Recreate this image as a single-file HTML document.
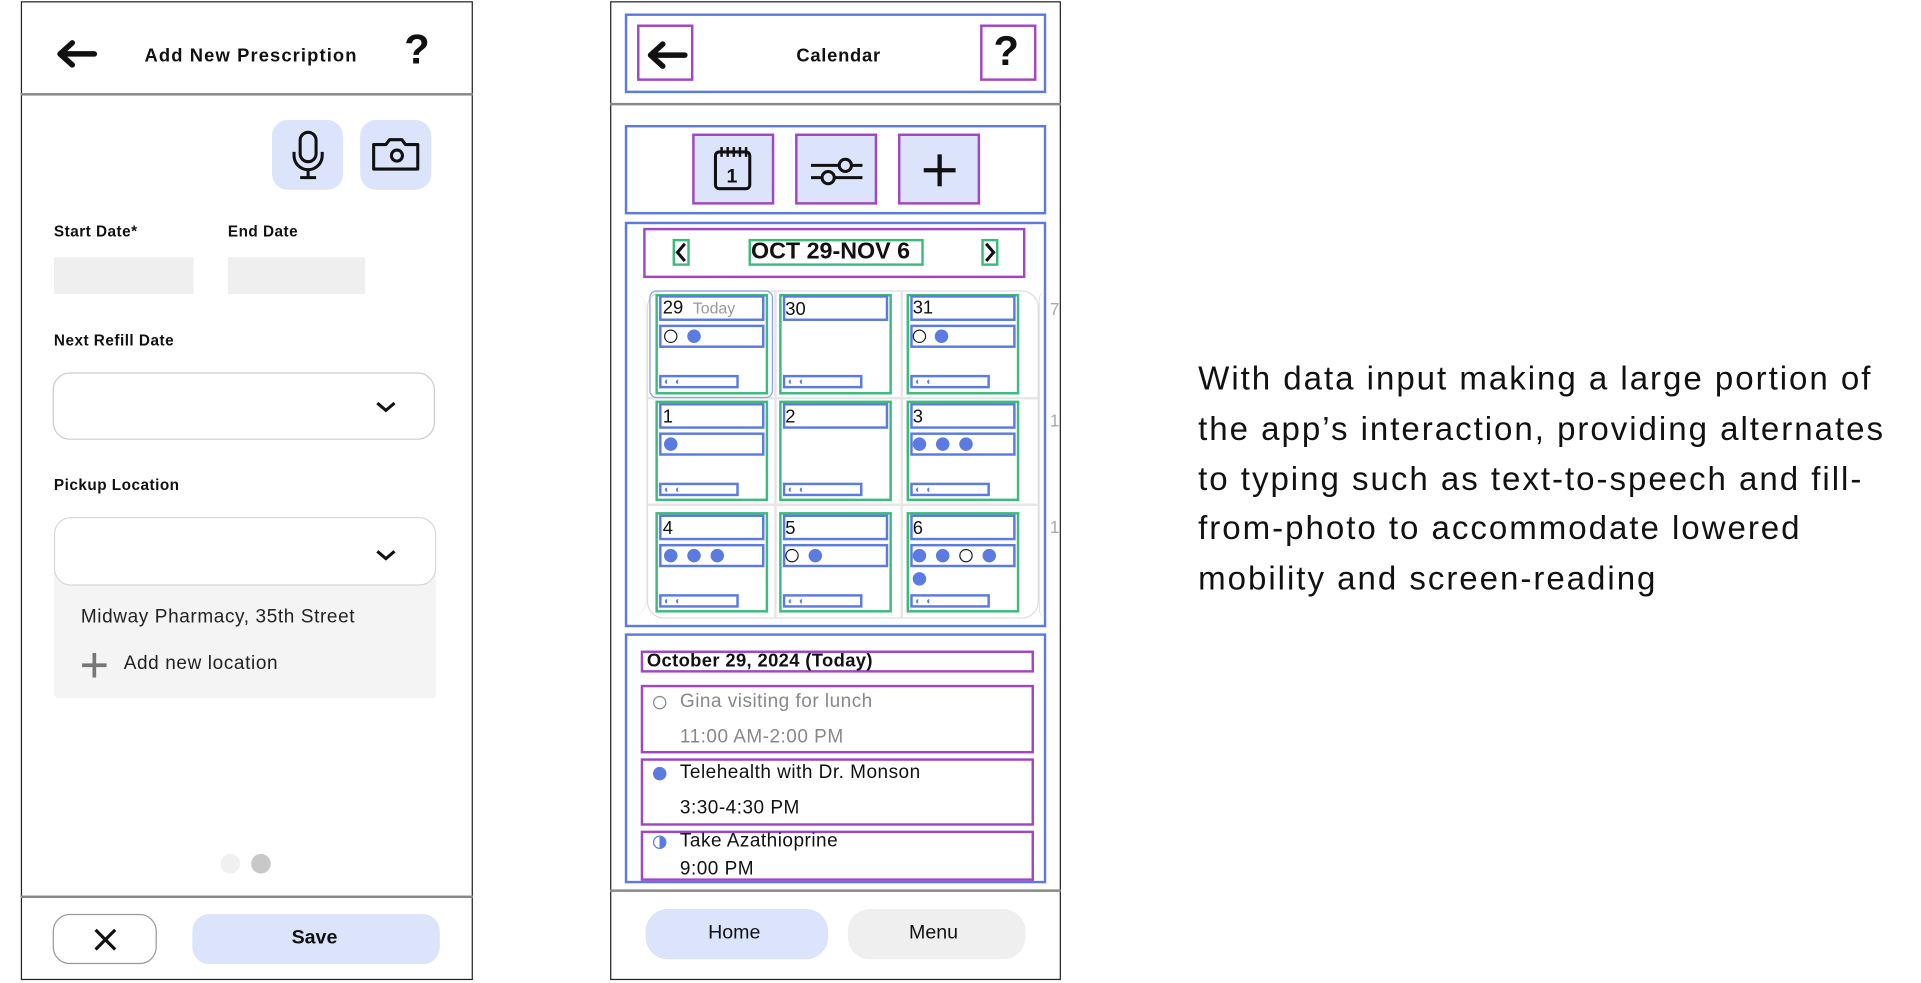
<!DOCTYPE html>
<html><head><meta charset="utf-8"><style>
html,body{margin:0;padding:0;background:#fff;overflow:hidden}
body{width:1921px;height:982px}
#c{position:absolute;left:0;top:0;width:1568px;height:802px;transform:scale(1.2251);transform-origin:0 0;font-family:"Liberation Sans",sans-serif;color:#111}
#c div{position:absolute;box-sizing:border-box}
.b{border:2px solid #5b7be0}
.p{border:2px solid #a146c4}
.g{border:2px solid #3dba7e}
.t{white-space:nowrap}
.dot{width:11px;height:11px;border-radius:50%;background:#5b7be0}
.ho{width:11px;height:11px;border-radius:50%;border:1.5px solid #222;background:#fff}
.lb{background:#dbe4fb}
.sm{font-size:8px;color:#5b7be0;line-height:7px;padding-left:2px;letter-spacing:1px}
</style></head><body><div id="c">

<!-- LEFT PHONE -->
<div style="left:17px;top:1px;width:369px;height:799px;border:1.5px solid #222"></div>
<div style="left:17px;top:76px;width:369px;height:1.5px;background:#888"></div>
<svg style="position:absolute;left:44px;top:32px" width="36" height="24"><path d="M33 12H6M15 3L5 12L15 21" stroke="#111" stroke-width="4.5" fill="none" stroke-linecap="round" stroke-linejoin="round"/></svg>
<div class="t" style="left:118px;top:37px;font-size:15px;font-weight:bold;letter-spacing:0.9px">Add New Prescription</div>
<div class="t" style="left:330px;top:22px;font-size:34px;font-weight:bold">?</div>
<div class="lb" style="left:222px;top:98px;width:58px;height:57px;border-radius:13px"></div>
<div class="lb" style="left:294px;top:98px;width:58px;height:57px;border-radius:13px"></div>
<svg style="position:absolute;left:236px;top:106px" width="32" height="42"><rect x="9" y="2" width="13" height="24" rx="6.5" fill="none" stroke="#111" stroke-width="2.5"/><path d="M4 18v3a11.5 11.5 0 0 0 23 0v-3M15.5 32v6M9 39h13" stroke="#111" stroke-width="2.5" fill="none"/></svg>
<svg style="position:absolute;left:303px;top:110px" width="42" height="34"><path d="M2 8h10l3-4h10l3 4h10v20H2z" fill="none" stroke="#111" stroke-width="2.5" stroke-linejoin="round"/><circle cx="21" cy="17" r="4.5" fill="none" stroke="#111" stroke-width="2.5"/></svg>
<div class="t" style="left:44px;top:182px;font-size:12.5px;font-weight:bold;letter-spacing:0.4px">Start Date*</div>
<div class="t" style="left:186px;top:182px;font-size:12.5px;font-weight:bold;letter-spacing:0.4px">End Date</div>
<div style="left:44px;top:210px;width:114px;height:30px;background:#efefef"></div>
<div style="left:186px;top:210px;width:112px;height:30px;background:#efefef"></div>
<div class="t" style="left:44px;top:271px;font-size:12.5px;font-weight:bold;letter-spacing:0.4px">Next Refill Date</div>
<div style="left:43px;top:304px;width:312px;height:55px;border:1.5px solid #ccc;border-radius:14px"></div>
<svg style="position:absolute;left:305px;top:326px" width="20" height="12"><path d="M3 3l7 6l7-6" stroke="#111" stroke-width="2.5" fill="none"/></svg>
<div class="t" style="left:44px;top:389px;font-size:12.5px;font-weight:bold;letter-spacing:0.4px">Pickup Location</div>
<div style="left:44px;top:455px;width:312px;height:115px;background:#f4f4f4;border-radius:4px"></div>
<div style="left:44px;top:422px;width:312px;height:56px;border:1.5px solid #d8d8d8;border-radius:14px;background:#fff"></div>
<svg style="position:absolute;left:305px;top:447px" width="20" height="12"><path d="M3 3l7 6l7-6" stroke="#111" stroke-width="2.5" fill="none"/></svg>
<div class="t" style="left:66px;top:495px;font-size:15.5px;color:#222;letter-spacing:0.5px">Midway Pharmacy, 35th Street</div>
<svg style="position:absolute;left:65px;top:531px" width="24" height="24"><path d="M12 2v20M2 12h20" stroke="#777" stroke-width="3"/></svg>
<div class="t" style="left:101px;top:533px;font-size:15.5px;color:#222;letter-spacing:0.5px">Add new location</div>
<div style="left:180px;top:697px;width:16px;height:16px;border-radius:50%;background:#f0f0f0"></div>
<div style="left:205px;top:697px;width:16px;height:16px;border-radius:50%;background:#c8c8c8"></div>
<div style="left:17px;top:731px;width:369px;height:1.5px;background:#888"></div>
<div style="left:43px;top:746px;width:85px;height:41px;border:1.5px solid #999;border-radius:14px"></div>
<svg style="position:absolute;left:75px;top:756px" width="22" height="22"><path d="M3 3l16 16M19 3L3 19" stroke="#111" stroke-width="2.6"/></svg>
<div class="lb" style="left:157px;top:746px;width:202px;height:41px;border-radius:14px"></div>
<div class="t" style="left:238px;top:757px;font-size:16px;font-weight:bold">Save</div>

<!-- RIGHT PHONE -->
<div style="left:498px;top:1px;width:368px;height:799px;border:1.5px solid #222"></div>
<div style="left:498px;top:84px;width:368px;height:1.5px;background:#888"></div>
<div class="b" style="left:510px;top:11px;width:344px;height:65px"></div>
<div class="p" style="left:520px;top:20px;width:46px;height:46px"></div>
<svg style="position:absolute;left:526px;top:33px" width="36" height="24"><path d="M33 12H6M15 3L5 12L15 21" stroke="#111" stroke-width="4.5" fill="none" stroke-linecap="round" stroke-linejoin="round"/></svg>
<div class="p" style="left:800px;top:20px;width:46px;height:46px"></div>
<div class="t" style="left:811px;top:23px;font-size:34px;font-weight:bold">?</div>
<div class="t" style="left:650px;top:37px;font-size:15px;font-weight:bold;letter-spacing:0.6px">Calendar</div>

<div class="b" style="left:510px;top:102px;width:344px;height:73px"></div>
<div class="p lb" style="left:565px;top:109px;width:67px;height:58px"></div>
<div class="p lb" style="left:649px;top:109px;width:67px;height:58px"></div>
<div class="p lb" style="left:733px;top:109px;width:67px;height:58px"></div>
<svg style="position:absolute;left:581px;top:118px" width="36" height="40"><rect x="3" y="6" width="28" height="30" rx="3" fill="none" stroke="#111" stroke-width="2.5"/><path d="M8 2v8M13 2v8M18 2v8M23 2v8M28 2v8" stroke="#111" stroke-width="2"/><text x="12" y="31" font-family="Liberation Sans" font-weight="bold" font-size="16" fill="#111">1</text></svg>
<svg style="position:absolute;left:660px;top:124px" width="46" height="30"><path d="M2 11h42M2 21h42" stroke="#111" stroke-width="2.5"/><circle cx="30" cy="11" r="5" fill="#dbe4fb" stroke="#111" stroke-width="2.5"/><circle cx="16" cy="21" r="5" fill="#dbe4fb" stroke="#111" stroke-width="2.5"/></svg>
<svg style="position:absolute;left:752px;top:124px" width="30" height="30"><path d="M15 2v26M2 15h26" stroke="#111" stroke-width="3.5"/></svg>

<div class="b" style="left:510px;top:181px;width:344px;height:331px"></div>
<div class="p" style="left:525px;top:186px;width:312px;height:41px"></div>
<div class="g" style="left:549px;top:195px;width:14px;height:22px"></div>
<svg style="position:absolute;left:550px;top:197px" width="12" height="18"><path d="M9 2L3 9l6 7" stroke="#111" stroke-width="2.5" fill="none"/></svg>
<div class="g" style="left:611px;top:195px;width:143px;height:22px"></div>
<div class="t" style="left:613px;top:195px;font-size:19px;font-weight:bold;line-height:22px">OCT 29-NOV 6</div>
<div class="g" style="left:801px;top:195px;width:14px;height:22px"></div>
<svg style="position:absolute;left:802px;top:197px" width="12" height="18"><path d="M3 2l6 7l-6 7" stroke="#111" stroke-width="2.5" fill="none"/></svg>

<!-- faint background -->
<div style="left:512px;top:238px;width:16px;height:266px;border-right:1.5px solid #eee;border-radius:0 14px 14px 0"></div>
<div style="left:848px;top:238px;width:6px;height:266px;border-left:1.5px solid #e6e6e6;border-radius:14px 0 0 14px"></div>
<div class="t" style="left:857px;top:244px;font-size:14px;color:#aaa">7</div>
<div class="t" style="left:857px;top:335px;font-size:14px;color:#aaa">1</div>
<div class="t" style="left:857px;top:422px;font-size:14px;color:#aaa">1</div>
<div style="left:528px;top:237px;width:320px;height:268px;border:1.5px solid #ddd;border-radius:14px"></div>
<div style="left:632px;top:238px;width:1.5px;height:266px;background:#e6e6e6"></div>
<div style="left:735px;top:238px;width:1.5px;height:266px;background:#e6e6e6"></div>
<div style="left:529px;top:324px;width:318px;height:1.5px;background:#e6e6e6"></div>
<div style="left:529px;top:411px;width:318px;height:1.5px;background:#e6e6e6"></div>
<div style="left:530px;top:237px;width:101px;height:88px;border:1.5px solid #8aa0e8;border-radius:6px"></div>

<!-- row 1 -->
<div class="g" style="left:535px;top:240px;width:92px;height:82px"></div>
<div class="b" style="left:538px;top:241px;width:86px;height:21px"></div>
<div class="t" style="left:541px;top:243px;font-size:15px">29 <span style="font-size:13px;color:#999">&nbsp;Today</span></div>
<div class="b" style="left:538px;top:265px;width:86px;height:19px"></div>
<div class="ho" style="left:542px;top:269px"></div><div class="dot" style="left:561px;top:269px"></div>
<div class="b sm" style="left:538px;top:306px;width:65px;height:11px">◐ ◐</div>

<div class="g" style="left:636px;top:240px;width:92px;height:82px"></div>
<div class="b" style="left:639px;top:241px;width:86px;height:21px"></div>
<div class="t" style="left:641px;top:244px;font-size:15px">30</div>
<div class="b sm" style="left:639px;top:306px;width:65px;height:11px">◐ ◐</div>

<div class="g" style="left:740px;top:240px;width:92px;height:82px"></div>
<div class="b" style="left:743px;top:241px;width:86px;height:21px"></div>
<div class="t" style="left:745px;top:243px;font-size:15px">31</div>
<div class="b" style="left:743px;top:265px;width:86px;height:19px"></div>
<div class="ho" style="left:745px;top:269px"></div><div class="dot" style="left:763px;top:269px"></div>
<div class="b sm" style="left:743px;top:306px;width:65px;height:11px">◐ ◐</div>

<!-- row 2 -->
<div class="g" style="left:535px;top:327px;width:92px;height:82px"></div>
<div class="b" style="left:538px;top:329px;width:86px;height:21px"></div>
<div class="t" style="left:541px;top:332px;font-size:15px">1</div>
<div class="b" style="left:538px;top:353px;width:86px;height:19px"></div>
<div class="dot" style="left:542px;top:357px"></div>
<div class="b sm" style="left:538px;top:394px;width:65px;height:11px">◐ ◐</div>

<div class="g" style="left:636px;top:327px;width:92px;height:82px"></div>
<div class="b" style="left:639px;top:329px;width:86px;height:21px"></div>
<div class="t" style="left:641px;top:332px;font-size:15px">2</div>
<div class="b sm" style="left:639px;top:394px;width:65px;height:11px">◐ ◐</div>

<div class="g" style="left:740px;top:327px;width:92px;height:82px"></div>
<div class="b" style="left:743px;top:329px;width:86px;height:21px"></div>
<div class="t" style="left:745px;top:332px;font-size:15px">3</div>
<div class="b" style="left:743px;top:353px;width:86px;height:19px"></div>
<div class="dot" style="left:745px;top:357px"></div><div class="dot" style="left:764px;top:357px"></div><div class="dot" style="left:783px;top:357px"></div>
<div class="b sm" style="left:743px;top:394px;width:65px;height:11px">◐ ◐</div>

<!-- row 3 -->
<div class="g" style="left:535px;top:418px;width:92px;height:82px"></div>
<div class="b" style="left:538px;top:420px;width:86px;height:21px"></div>
<div class="t" style="left:541px;top:423px;font-size:15px">4</div>
<div class="b" style="left:538px;top:444px;width:86px;height:19px"></div>
<div class="dot" style="left:542px;top:448px"></div><div class="dot" style="left:561px;top:448px"></div><div class="dot" style="left:580px;top:448px"></div>
<div class="b sm" style="left:538px;top:485px;width:65px;height:11px">◐ ◐</div>

<div class="g" style="left:636px;top:418px;width:92px;height:82px"></div>
<div class="b" style="left:639px;top:420px;width:86px;height:21px"></div>
<div class="t" style="left:641px;top:423px;font-size:15px">5</div>
<div class="b" style="left:639px;top:444px;width:86px;height:19px"></div>
<div class="ho" style="left:641px;top:448px"></div><div class="dot" style="left:660px;top:448px"></div>
<div class="b sm" style="left:639px;top:485px;width:65px;height:11px">◐ ◐</div>

<div class="g" style="left:740px;top:418px;width:92px;height:82px"></div>
<div class="b" style="left:743px;top:420px;width:86px;height:21px"></div>
<div class="t" style="left:745px;top:423px;font-size:15px">6</div>
<div class="b" style="left:743px;top:444px;width:86px;height:19px"></div>
<div class="dot" style="left:745px;top:448px"></div><div class="dot" style="left:764px;top:448px"></div><div class="ho" style="left:783px;top:448px"></div><div class="dot" style="left:802px;top:448px"></div>
<div class="dot" style="left:745px;top:467px"></div>
<div class="b sm" style="left:743px;top:485px;width:65px;height:11px">◐ ◐</div>

<!-- events -->
<div class="b" style="left:510px;top:517px;width:344px;height:204px"></div>
<div class="p" style="left:523px;top:531px;width:321px;height:18px"></div>
<div class="t" style="left:528px;top:531px;font-size:15px;font-weight:bold;line-height:18px;letter-spacing:0.3px">October 29, 2024 (Today)</div>
<div class="p" style="left:523px;top:559px;width:321px;height:56px"></div>
<div style="left:533px;top:568px;width:11px;height:11px;border-radius:50%;border:1.5px solid #888"></div>
<div class="t" style="left:555px;top:564px;font-size:15.5px;color:#888;letter-spacing:0.4px">Gina visiting for lunch</div>
<div class="t" style="left:555px;top:593px;font-size:15.5px;color:#888;letter-spacing:0.4px">11:00 AM-2:00 PM</div>
<div class="p" style="left:523px;top:619px;width:321px;height:55px"></div>
<div class="dot" style="left:533px;top:626px"></div>
<div class="t" style="left:555px;top:622px;font-size:15.5px;letter-spacing:0.4px">Telehealth with Dr. Monson</div>
<div class="t" style="left:555px;top:651px;font-size:15.5px;letter-spacing:0.4px">3:30-4:30 PM</div>
<div class="p" style="left:523px;top:678px;width:321px;height:41px"></div>
<div style="left:533px;top:682px;width:11px;height:11px;border-radius:50%;border:1.5px solid #5b7be0;background:linear-gradient(90deg,#fff 50%,#5b7be0 50%)"></div>
<div class="t" style="left:555px;top:678px;font-size:15.5px;letter-spacing:0.4px">Take Azathioprine</div>
<div class="t" style="left:555px;top:701px;font-size:15.5px;letter-spacing:0.4px">9:00 PM</div>
<div style="left:498px;top:726px;width:368px;height:1.5px;background:#888"></div>
<div class="lb" style="left:527px;top:742px;width:149px;height:41px;border-radius:18px"></div>
<div class="t" style="left:578px;top:753px;font-size:16px">Home</div>
<div style="left:692px;top:742px;width:145px;height:41px;border-radius:18px;background:#efefef"></div>
<div class="t" style="left:742px;top:753px;font-size:16px">Menu</div>

<!-- text -->
<div class="t" style="left:978px;top:289px;font-size:27px;line-height:40.8px;color:#111;letter-spacing:1.6px">With data input making a large portion of<br>the app’s interaction, providing alternates<br>to typing such as text-to-speech and fill-<br>from-photo to accommodate lowered<br>mobility and screen-reading</div>
</div></body></html>
